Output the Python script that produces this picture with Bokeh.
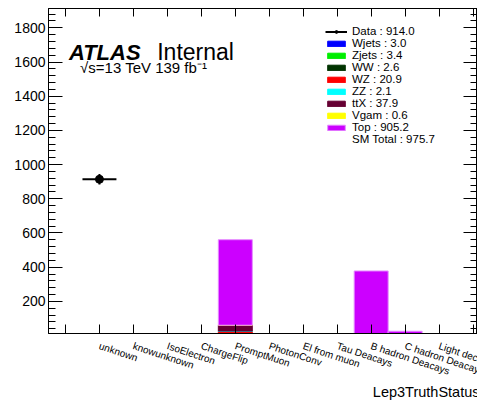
import math
from bokeh.plotting import figure
from bokeh.models import (ColumnDataSource, FixedTicker, LinearAxis, Range1d,
                          Legend, LegendItem, Label, Title)
from bokeh.embed import file_html
from bokeh.resources import INLINE

# ---------------- data ----------------
categories = ["unknown", "knowunknown", "IsoElectron", "ChargeFlip", "PromptMuon",
              "PhotonConv", "El from muon", "Tau Deacays", "B hadron Deacays",
              "C hadron Deacays", "Light decays"]
bin_x = list(range(len(categories)))

data_counts = [914.0, 0, 0, 0, 0, 0, 0, 0, 0, 0, 0]

wjets = [0, 0.1, 0, 0, 1.2, 0, 0, 0.1, 1.1, 0.4, 0.1]
zjets = [0, 0.1, 0, 0, 1.5, 0, 0, 0.1, 1.2, 0.4, 0.1]
ww    = [0, 0.0, 0, 0, 1.8, 0, 0, 0.1, 0.5, 0.2, 0.0]
wz    = [0, 0.0, 0, 0, 19.6, 0, 0, 0.2, 0.8, 0.3, 0.0]
zz    = [0, 0.0, 0, 0, 1.9, 0, 0, 0.0, 0.1, 0.1, 0.0]
ttx   = [0, 0.0, 0, 0, 34.3, 0, 0, 0.3, 2.8, 0.5, 0.0]
vgam  = [0, 0.0, 0, 0, 0.3, 0, 0, 0.0, 0.2, 0.1, 0.0]
top   = [0, 2.5, 0, 0, 500.0, 0, 0, 7.0, 371.0, 23.2, 1.5]

samples = ["Wjets", "Zjets", "WW", "WZ", "ZZ", "ttX", "Vgam", "Top"]
sample_values = [wjets, zjets, ww, wz, zz, ttx, vgam, top]
sample_colors = ["#0000ff", "#00ee00", "#003300", "#ff0000", "#00ffff",
                 "#660033", "#ffff00", "#cc00ff"]
sample_lines = ["#0000ff", "#00ee00", "#003300", "#ff0000", "#00ffff",
                "#660033", "#ffff00", "#e58cff"]

y_ticks = [200, 400, 600, 800, 1000, 1200, 1400, 1600, 1800]
y_minor = list(range(40, 1920, 40))
x_ticks = list(range(-1, 12))

FONT = "Liberation Sans"
X_END = 11.13

# ---------------- figure ----------------
p = figure(width=477, height=403, output_backend="svg", toolbar_location=None,
           x_range=Range1d(-1.5, X_END), y_range=Range1d(12, 1913),
           min_border_left=48, min_border_right=0, min_border_top=8,
           min_border_bottom=70)
p.grid.visible = False
p.outline_line_color = "black"
p.outline_line_width = 1
p.background_fill_color = "white"
p.border_fill_color = "white"

src = {"x": bin_x}
for name, vals in zip(samples, sample_values):
    src[name] = vals
source = ColumnDataSource(src)
stack_r = p.vbar_stack(samples, x="x", width=1.0, source=source,
                       fill_color=sample_colors, line_color=sample_lines,
                       line_width=1)

# data points with errors
dx = [x for x, n in zip(bin_x, data_counts) if n > 0]
dy = [n for n in data_counts if n > 0]
derr = [math.sqrt(n) for n in dy]
dsrc = ColumnDataSource(dict(x=dx, y=dy,
                             x0=[x - 0.5 for x in dx], x1=[x + 0.5 for x in dx],
                             ylo=[y - e for y, e in zip(dy, derr)],
                             yhi=[y + e for y, e in zip(dy, derr)]))
hseg = p.segment(x0="x0", y0="y", x1="x1", y1="y", source=dsrc,
                 line_color="black", line_width=2)
p.segment(x0="x", y0="ylo", x1="x", y1="yhi", source=dsrc,
          line_color="black", line_width=2)
mark = p.scatter(x="x", y="y", source=dsrc, size=8, marker="circle",
                 color="black")
dummy = p.scatter(x=[], y=[], alpha=0)

# ---------------- axes ----------------
xa = p.xaxis[0]
xa.ticker = FixedTicker(ticks=x_ticks, minor_ticks=[])
ov = {float(i): "" for i in x_ticks}
for i, c in zip(bin_x, categories):
    ov[float(i)] = c
xa.major_label_overrides = ov
xa.major_label_orientation = -0.32
xa.major_label_standoff = 12
xa.major_label_text_font = FONT
xa.major_label_text_font_size = "10px"
xa.major_label_text_color = "black"
xa.major_tick_in = 9
xa.major_tick_out = 0
xa.minor_tick_in = 0
xa.minor_tick_out = 0
xa.axis_line_color = "black"
xa.major_tick_line_color = "black"

ya = p.yaxis[0]
ya.ticker = FixedTicker(ticks=y_ticks, minor_ticks=y_minor)
ya.major_tick_in = 14
ya.major_tick_out = 0
ya.minor_tick_in = 7
ya.minor_tick_out = 0
ya.major_label_standoff = 3
ya.major_label_text_font = FONT
ya.major_label_text_font_size = "14px"
ya.major_label_text_color = "black"
ya.axis_line_color = "black"
ya.major_tick_line_color = "black"
ya.minor_tick_line_color = "black"

top_ax = LinearAxis(ticker=FixedTicker(ticks=x_ticks, minor_ticks=[]),
                    major_label_text_font_size="0px", major_label_standoff=0,
                    major_label_text_color=None, axis_label_standoff=0,
                    axis_label_text_font_size="0px",
                    major_tick_in=8, major_tick_out=0,
                    minor_tick_in=0, minor_tick_out=0,
                    axis_line_color="black", major_tick_line_color="black")
p.add_layout(top_ax, "above")

right_ax = LinearAxis(ticker=FixedTicker(ticks=y_ticks, minor_ticks=y_minor),
                      major_label_text_font_size="0px", major_label_standoff=0,
                      major_label_text_color=None, axis_label_standoff=0,
                      axis_label_text_font_size="0px",
                      major_tick_in=14, major_tick_out=0,
                      minor_tick_in=7, minor_tick_out=0,
                      axis_line_color="black", major_tick_line_color="black",
                      minor_tick_line_color="black")
p.add_layout(right_ax, "right")

# ---------------- texts ----------------
p.add_layout(Label(x=-0.9, y=1656, text="ATLAS", text_font=FONT,
                   text_font_style="bold italic", text_font_size="22px",
                   text_baseline="alphabetic", text_color="black"))
p.add_layout(Label(x=1.7, y=1656, text="Internal", text_font=FONT,
                   text_font_size="23px", text_baseline="alphabetic",
                   text_color="black"))
p.add_layout(Label(x=-0.57, y=1568, text="√s=13 TeV 139 fb⁻¹", text_font=FONT,
                   text_font_size="15px", text_baseline="alphabetic",
                   text_color="black"))

x_title = "Lep3TruthStatus"
p.add_layout(Title(text=x_title, align="right", standoff=-6, offset=-2,
                   text_font=FONT, text_font_size="14.5px",
                   text_font_style="normal", text_color="black"), "below")

# ---------------- legend ----------------
items = [LegendItem(label=f"Data : {sum(data_counts):.1f}", renderers=[hseg, mark])]
for name, vals, r in zip(samples, sample_values, stack_r):
    items.append(LegendItem(label=f"{name} : {sum(vals):.1f}", renderers=[r]))
sm_total = sum(sum(v) for v in sample_values)
items.append(LegendItem(label=f"SM Total : {sm_total:.1f}", renderers=[dummy]))

legend = Legend(items=items, location=(277, 188), label_text_font=FONT,
                label_text_font_size="11.5px", label_text_color="black",
                glyph_width=22, glyph_height=7, label_standoff=5, spacing=0,
                padding=0, margin=0, border_line_alpha=0,
                background_fill_alpha=0, label_height=10)
p.add_layout(legend)

open("out.html", "w").write(file_html(p, INLINE))
